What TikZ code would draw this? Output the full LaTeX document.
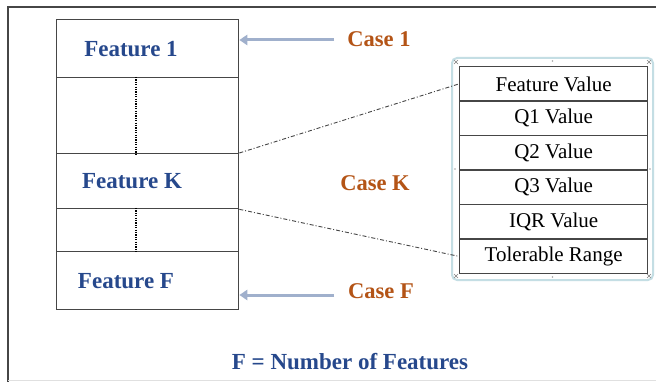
\documentclass[tikz,border=0pt]{standalone}
\usepackage{fontspec}
\setmainfont{Liberation Serif}
\usetikzlibrary{arrows.meta}
\definecolor{featblue}{RGB}{38,72,140}
\definecolor{casebrown}{RGB}{180,84,22}
\definecolor{arrgray}{RGB}{160,176,204}
\definecolor{framegray}{RGB}{70,70,70}
\definecolor{boxblue}{RGB}{196,222,228}
\tikzset{
  rowbox/.style={draw=framegray, line width=1.3pt, minimum width=182pt, inner sep=0pt, anchor=north west},
  feat/.style={font=\bfseries\fontsize{23}{26}\selectfont, text=featblue},
  casetxt/.style={font=\bfseries\fontsize{22.5}{26}\selectfont, text=casebrown},
  cell/.style={draw=framegray, line width=1.3pt, minimum width=188pt, minimum height=34.5pt, inner sep=0pt, anchor=north west, font=\fontsize{21}{24}\selectfont},
  pointer/.style={draw=arrgray, line width=3pt, -{Triangle[length=8pt,width=10pt]}},
  zoomline/.style={draw=framegray, line width=0.9pt, dash pattern=on 4pt off 2pt on 1pt off 2pt},
  dotline/.style={draw=black, line width=1.6pt, dash pattern=on 1.2pt off 1.2pt},
  handle/.style={draw=gray, line width=0.6pt}
}
\begin{document}
\begin{tikzpicture}[x=1pt,y=-1pt]
\useasboundingbox (0,0) rectangle (656,382);
\fill[white] (0,0) rectangle (656,382);
% outer frame
\draw[framegray, line width=2pt] (8,382) -- (8,7) -- (656,7);
\draw[black!12, line width=1pt] (8,380.5) -- (656,380.5);
% left column
\node[rowbox, minimum height=58pt] (f1) at (56,19) {};
\node[rowbox, minimum height=76pt] (d1) at (56,77) {};
\node[rowbox, minimum height=55pt] (fk) at (56,153) {};
\node[rowbox, minimum height=43pt] (d2) at (56,208) {};
\node[rowbox, minimum height=58pt] (ff) at (56,251) {};
\node[feat] (t1) at (131,49) {Feature 1};
\node[feat] (tk) at (132,181) {Feature K};
\node[feat] (tf) at (126,281) {Feature F};
\draw[dotline] (d1.north -| 136,0) -- (d1.south -| 136,0);
\draw[dotline] (d2.north -| 136,0) -- (d2.south -| 136,0);
% cases
\node[casetxt] (c1) at (379,39) {Case 1};
\node[casetxt] (ck) at (375,183) {Case K};
\node[casetxt] (cf) at (381,291) {Case F};
\coordinate (a1) at (334,40);
\coordinate (af) at (334,295);
\draw[pointer] (a1) -- (f1.east |- a1);
\draw[pointer] (af) -- (ff.east |- af);
% right detail box
\draw[boxblue, line width=2pt, rounded corners=5pt] (452,58) rectangle (653,280);
\node[cell] (fv) at (459,66) {Feature Value};
\node[cell] (q1) at (459,100.5) {Q1 Value};
\node[cell] (q2) at (459,135) {Q2 Value};
\node[cell] (q3) at (459,169.5) {Q3 Value};
\node[cell] (iq) at (459,204) {IQR Value};
\node[cell] (tr) at (459,238.5) {Tolerable Range};
% handles
\foreach \p in {(552.5,61),(552.5,277),(455,169),(650,169)}
  \fill[gray!70] \p circle (0.9pt);
\foreach \p in {(456,62),(649,62),(456,276),(649,276)}
  \draw[handle] \p ++(-2,-2) -- ++(4,4) \p ++(-2,2) -- ++(4,-4);
% zoom lines
\draw[zoomline] (fk.north east) -- (fv.west);
\draw[zoomline] (fk.south east) -- (tr.west);
% footnote
\node[feat] (note) at (350,362) {F = Number of Features};
\end{tikzpicture}
\end{document}
